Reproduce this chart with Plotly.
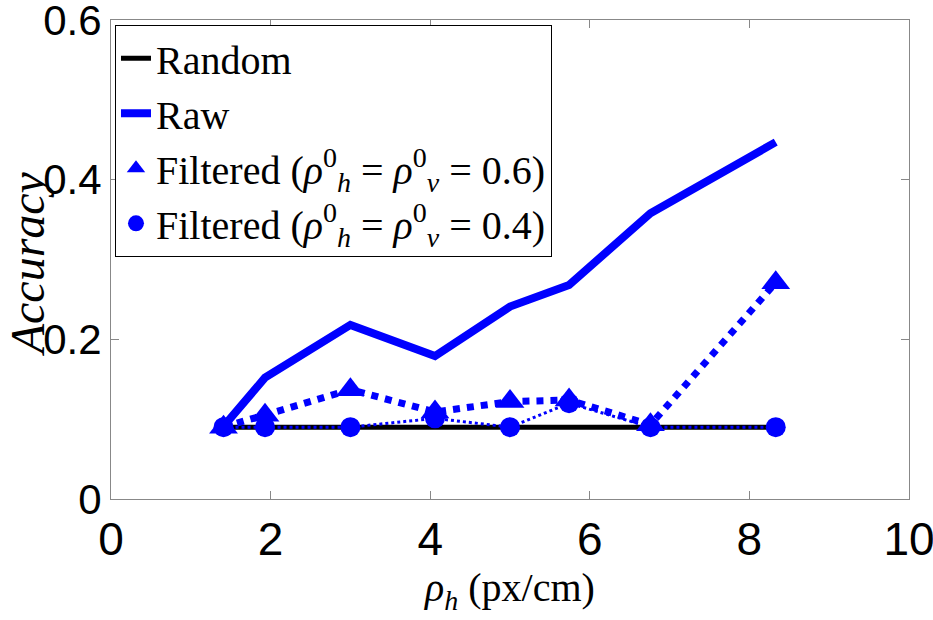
import plotly.graph_objects as go

rho_h = [1.41, 1.93, 3.0, 4.06, 5.0, 5.74, 6.76, 8.33]
random_acc = [0.09, 0.09, 0.09, 0.09, 0.09, 0.09, 0.09, 0.09]
raw_acc = [0.091, 0.152, 0.218, 0.179, 0.241, 0.268, 0.358, 0.447]
filt06_acc = [0.09, 0.105, 0.137, 0.109, 0.122, 0.124, 0.093, 0.271]
filt04_acc = [0.09, 0.09, 0.09, 0.101, 0.09, 0.12, 0.09, 0.09]

x_ticks = [0, 2, 4, 6, 8, 10]
y_ticks = [0, 0.2, 0.4, 0.6]
y_tick_text = ["0", "0.2", "0.4", "0.6"]

names = ["Random", "Raw",
         "Filtered (<i>ρ</i><sup>0</sup><sub><i>h</i></sub> = <i>ρ</i><sup>0</sup><sub><i>v</i></sub> = 0.6)",
         "Filtered (<i>ρ</i><sup>0</sup><sub><i>h</i></sub> = <i>ρ</i><sup>0</sup><sub><i>v</i></sub> = 0.4)"]

BLUE = "#0000ff"
fig = go.Figure()
fig.add_trace(go.Scatter(x=rho_h, y=random_acc, mode="lines", name=names[0],
                         line=dict(color="black", width=5)))
fig.add_trace(go.Scatter(x=rho_h, y=raw_acc, mode="lines", name=names[1],
                         line=dict(color=BLUE, width=8)))
fig.add_trace(go.Scatter(x=rho_h, y=filt06_acc, mode="lines+markers", showlegend=False,
                         line=dict(color=BLUE, width=7, dash="dot"),
                         marker=dict(symbol="triangle-up", size=25, color=BLUE)))
fig.add_trace(go.Scatter(x=rho_h, y=filt04_acc, mode="lines+markers", showlegend=False,
                         line=dict(color=BLUE, width=3, dash="dot"),
                         marker=dict(symbol="circle", size=20, color=BLUE)))
# legend-only entries (marker only, as in the original legend)
fig.add_trace(go.Scatter(x=[None], y=[None], mode="markers", name=names[2],
                         marker=dict(symbol="triangle-up", size=24, color=BLUE)))
fig.add_trace(go.Scatter(x=[None], y=[None], mode="markers", name=names[3],
                         marker=dict(symbol="circle", size=18, color=BLUE)))

axis_common = dict(showgrid=False, zeroline=False, showline=True, linecolor="#888888",
                   linewidth=1, mirror="ticks", ticks="inside", ticklen=8,
                   tickcolor="#888888", automargin=False, ticklabeloverflow="allow")

fig.update_layout(
    width=933, height=620,
    margin=dict(l=111, r=24, t=20, b=121),
    paper_bgcolor="white", plot_bgcolor="white",
    xaxis=dict(range=[0, 10], tickvals=x_ticks, ticktext=[str(v) for v in x_ticks],
               tickfont=dict(family="Liberation Sans, Arial, sans-serif", size=46, color="black"),
               title=dict(text="<i>ρ<sub>h</sub></i> (px/cm)",
                          font=dict(family="Liberation Serif, serif", size=40, color="black"),
                          standoff=0),
               **axis_common),
    yaxis=dict(range=[0, 0.6], tickvals=y_ticks, ticktext=y_tick_text,
               tickfont=dict(family="Liberation Sans, Arial, sans-serif", size=42, color="black"),
               **axis_common),
    legend=dict(x=0.005, y=0.99, xanchor="left", yanchor="top",
                bgcolor="white", bordercolor="black", borderwidth=1,
                font=dict(family="Liberation Serif, serif", size=40, color="black"),
                itemwidth=30, tracegroupgap=0),
    showlegend=True,
    annotations=[dict(text="<i>Accuracy</i>", textangle=-90, showarrow=False,
                      xref="paper", yref="paper", x=0, y=0.49,
                      xanchor="center", yanchor="middle", xshift=-84,
                      font=dict(family="Liberation Serif, serif", size=48, color="black"))],
)

fig.write_html("out.html", config={"displayModeBar": False},
               post_script="document.body.style.margin='0';document.body.style.overflow='hidden';")
